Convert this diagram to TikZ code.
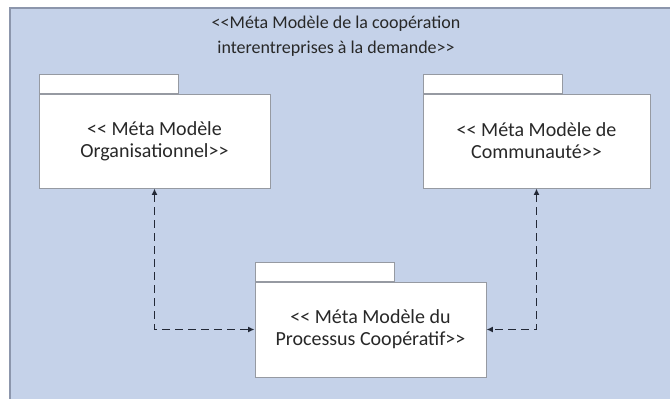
\documentclass[tikz,border=0pt]{standalone}
\usepackage{fontspec}
\setmainfont{Carlito}[Ligatures=TeXOff]
\definecolor{canvasblue}{RGB}{197, 210, 233}
\definecolor{framegray}{RGB}{140, 150, 172}
\definecolor{boxgray}{RGB}{150, 154, 162}
\definecolor{linknavy}{RGB}{34, 40, 54}
\definecolor{inkgray}{RGB}{40, 40, 40}
\usetikzlibrary{arrows.meta, positioning}

\begin{document}
\begin{tikzpicture}[x=1pt, y=-1pt,
  pkgbody/.style={draw=boxgray, line width=0.9pt, fill=white, minimum width=231pt, minimum height=94pt, align=center, font=\fontsize{20}{22}\selectfont, text=inkgray},
  pkgtab/.style={draw=boxgray, line width=0.9pt, fill=white, minimum width=139pt, minimum height=19pt, inner sep=0pt},
  depends/.style={draw=linknavy, line width=1.6pt, dash pattern=on 8pt off 5pt, {Latex[length=6.5pt,width=6pt]}-{Latex[length=6.5pt,width=6pt]}}
]
  \useasboundingbox (0,0) rectangle (670,399);
  % fond du paquetage englobant
  \fill[canvasblue] (10,8) rectangle (670,399);
  \draw[framegray, line width=1.2pt] (10,399) -- (10,8) -- (670,8);

  \node[align=center, font=\fontsize{18}{25}\selectfont, text=inkgray] (title) at (336,36)
    {<<Méta Modèle de la coopération\\interentreprises à la demande>>};

  \node[pkgbody] (orga) at (154.5,141) {<< Méta Modèle\\Organisationnel>>};
  \node[pkgtab, above right=0pt and 0pt of orga.north west] (orgatab) {};

  \node[pkgbody, minimum width=227pt] (comm) at (536.5,141) {<< Méta Modèle de\\Communauté>>};
  \node[pkgtab, above right=0pt and 0pt of comm.north west] (commtab) {};

  \node[pkgbody, minimum height=95pt] (proc) at (370.5,329.5) {<< Méta Modèle du\\Processus Coopératif>>};
  \node[pkgtab, above right=0pt and 0pt of proc.north west] (proctab) {};

  \draw[depends] (orga.south) |- (proc.west);
  \draw[depends] (comm.south) |- (proc.east);
\end{tikzpicture}
\end{document}
